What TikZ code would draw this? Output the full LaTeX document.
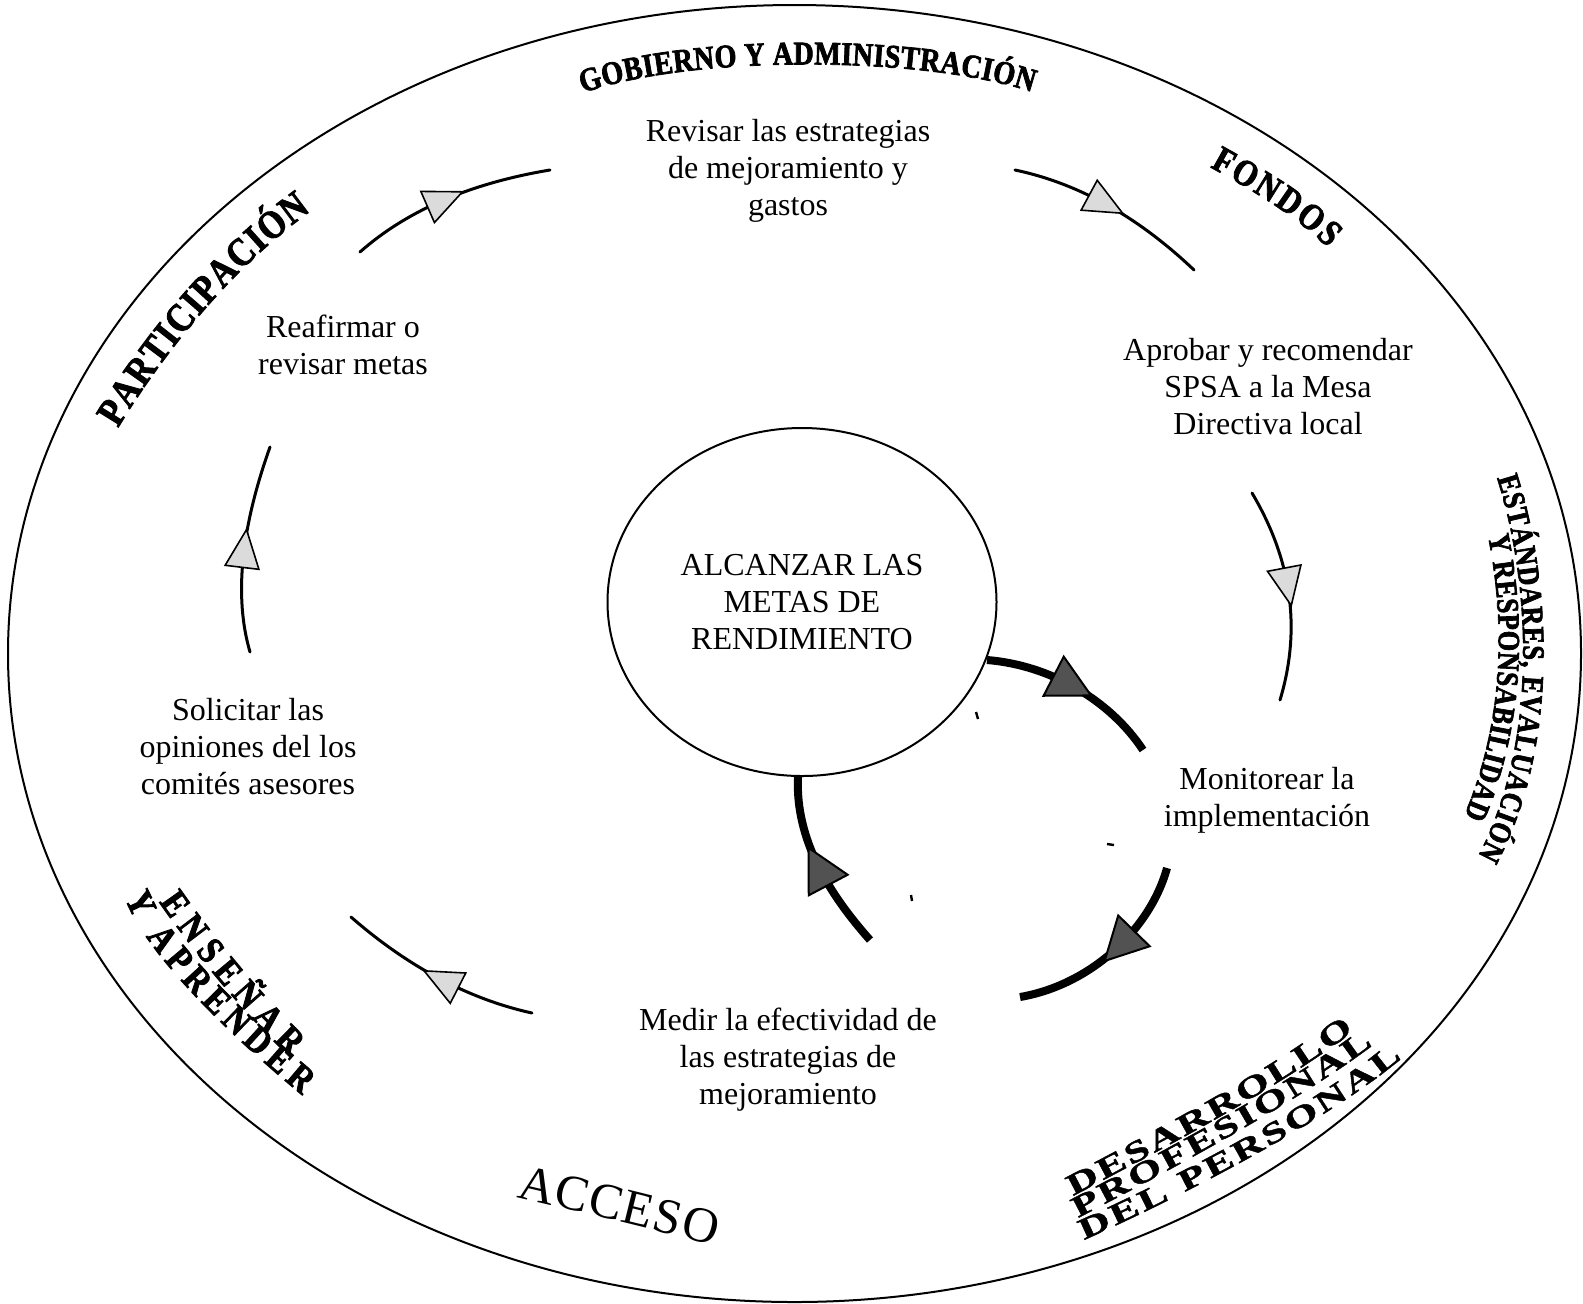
\documentclass[tikz,border=0pt]{standalone}
\usepackage{fontspec}
\setmainfont{Liberation Serif}
\newfontfamily\wordart[FakeStretch=0.85,FakeBold=2.2]{Liberation Serif}
\newfontfamily\wideart[FakeStretch=1.45,FakeBold=1.5]{Liberation Serif}
\usetikzlibrary{decorations.text,decorations.markings,shapes.geometric}
\tikzset{
  body/.style={align=center, inner sep=0pt, font=\fontsize{16pt}{18.5pt}\selectfont},
  hubstyle/.style={ellipse, draw, line width=1pt, inner sep=0pt, minimum width=194.5pt, minimum height=174pt, align=center, font=\fontsize{16pt}{18.5pt}\selectfont},
  ring/.style={line width=1pt},
  lightarc/.style={line width=1.5pt, line cap=round,
    postaction={decorate, decoration={markings, mark=at position #1 with {\filldraw[line width=0.8pt, line cap=butt, fill=black!14, draw=black] (23,0) -- (-15,17) -- (-15,-17) -- cycle;}}}},
  darkarc/.style={line width=4pt,
    postaction={decorate, decoration={markings, mark=at position #1 with {\filldraw[line width=1pt, fill=black!68, draw=black] (27,0) -- (-15,22) -- (-15,-22) -- cycle;}}}},
  speck/.style={line width=1.2pt}
}
\begin{document}
\begin{tikzpicture}[x=0.5pt,y=-0.5pt]
\fill[white] (0,0) rectangle (1583,1303);
\useasboundingbox (0,0) rectangle (1583,1303);

% outer ring
\draw[ring] (794.5,653.5) ellipse [x radius=393.25pt, y radius=324.25pt];

% hub
\node[hubstyle] (hub) at (802,602) {ALCANZAR LAS\\METAS DE\\RENDIMIENTO};

% steps
\node[body] (revisar) at (788,171) {Revisar las estrategias\\de mejoramiento y\\gastos};
\node[body] (reafirmar) at (343,345) {Reafirmar o\\revisar metas};
\node[body] (aprobar) at (1268,387) {Aprobar y recomendar\\SPSA a la Mesa\\Directiva local};
\node[body] (solicitar) at (248,747) {Solicitar las\\opiniones del los\\comités asesores};
\node[body] (monitorear) at (1267,800) {Monitorear la\\implementación};
\node[body] (medir) at (788,1060) {Medir la efectividad de\\las estrategias de\\mejoramiento};

% outer cycle coordinates
\coordinate (a1) at (360,252);  \coordinate (a2) at (550,170);
\coordinate (b1) at (1015,170); \coordinate (b2) at (1194,270);
\coordinate (c1) at (1252,493); \coordinate (c2) at (1280,700);
\coordinate (d1) at (532,1013); \coordinate (d2) at (351,917);
\coordinate (e1) at (250,652);  \coordinate (e2) at (270,447);

\draw[lightarc=0.46] (a1) .. controls (406.7,210.7) and (470,183.3) .. (a2);
\draw[lightarc=0.45] (b1) .. controls (1078.3,183.3) and (1138,216.7) .. (b2);
\draw[lightarc=0.45] (c1) .. controls (1292,560.3) and (1301.3,629.3) .. (c2);
\draw[lightarc=0.45] (d1) .. controls (468.7,999) and (408.3,967) .. (d2);
\draw[lightarc=0.48] (e1) .. controls (234,597.3) and (240.7,529) .. (e2);

% inner cycle coordinates
\coordinate (i1) at (987,660);  \coordinate (i2) at (1143,750);
\coordinate (j1) at (1167,868); \coordinate (j2) at (1020,997);
\coordinate (k1) at (870,940);  \coordinate (k2) at (798,777);

\draw[darkarc=0.45] (i1) .. controls (1050,665) and (1110,700) .. (i2);
\draw[darkarc=0.42] (j1) .. controls (1150,930) and (1090,985) .. (j2);
\draw[darkarc=0.46] (k1) .. controls (830,895) and (795,840) .. (k2);

% small specks
\draw[speck] (976,712) -- (978,719);
\draw[speck] (1107,844) -- (1114,845);
\draw[speck] (911,895) -- (912,901);

% curved titles
\path[decorate, decoration={text along path, text align=fit to path,
  text={|\wordart\bfseries\fontsize{16.5pt}{16.5pt}\selectfont|GOBIERNO Y ADMINISTRACIÓN}}]
  (583,93) .. controls (690,55) and (920,55) .. (1032,92);

\path[decorate, decoration={text along path, text align=fit to path,
  text={|\wordart\bfseries\fontsize{18.5pt}{18.5pt}\selectfont|FONDOS}}]
  (1210,167) .. controls (1255,192) and (1295,215) .. (1328,248);

\path[decorate, decoration={text along path, text align=fit to path,
  text={|\wordart\bfseries\fontsize{20pt}{20pt}\selectfont|PARTICIPACIÓN}}]
  (118,428) .. controls (165,350) and (235,265) .. (311,211);

\path[decorate, decoration={text along path, text align=fit to path,
  text={|\wordart\bfseries\fontsize{15.5pt}{15.5pt}\selectfont|ESTÁNDARES, EVALUACIÓN}}]
  (1497,478) .. controls (1530,580) and (1540,740) .. (1478,856);
\path[decorate, decoration={text along path, text align=fit to path,
  text={|\wordart\bfseries\fontsize{15.5pt}{15.5pt}\selectfont|Y RESPONSABILIDAD}}]
  (1488,536) .. controls (1505,620) and (1505,720) .. (1464,816);

\path[decorate, decoration={text along path, text align=fit to path,
  text={|\wordart\bfseries\fontsize{19pt}{19pt}\selectfont|ENSEÑAR}}]
  (159,902) .. controls (185,940) and (240,1010) .. (290,1057);
\path[decorate, decoration={text along path, text align=fit to path,
  text={|\wordart\bfseries\fontsize{19pt}{19pt}\selectfont|Y APRENDER}}]
  (125,898) .. controls (140,940) and (200,1010) .. (302,1095);

\path[decorate, decoration={text along path, text align=fit to path,
  text={|\wideart\bfseries\fontsize{15pt}{15pt}\selectfont|DESARROLLO}}]
  (1073,1196) .. controls (1170,1145) and (1275,1090) .. (1354,1031);
\path[decorate, decoration={text along path, text align=fit to path,
  text={|\wideart\bfseries\fontsize{15pt}{15pt}\selectfont|PROFESIONAL}}]
  (1078,1218) .. controls (1180,1165) and (1300,1100) .. (1373,1045);
\path[decorate, decoration={text along path, text align=fit to path,
  text={|\wideart\bfseries\fontsize{15pt}{15pt}\selectfont|DEL PERSONAL}}]
  (1084,1240) .. controls (1200,1188) and (1330,1118) .. (1402,1058);

\path[decorate, decoration={text along path, text align=fit to path,
  text={|\fontsize{25pt}{25pt}\selectfont|ACCESO}}]
  (516,1197) .. controls (580,1212) and (650,1228) .. (714,1246);
\end{tikzpicture}
\end{document}
